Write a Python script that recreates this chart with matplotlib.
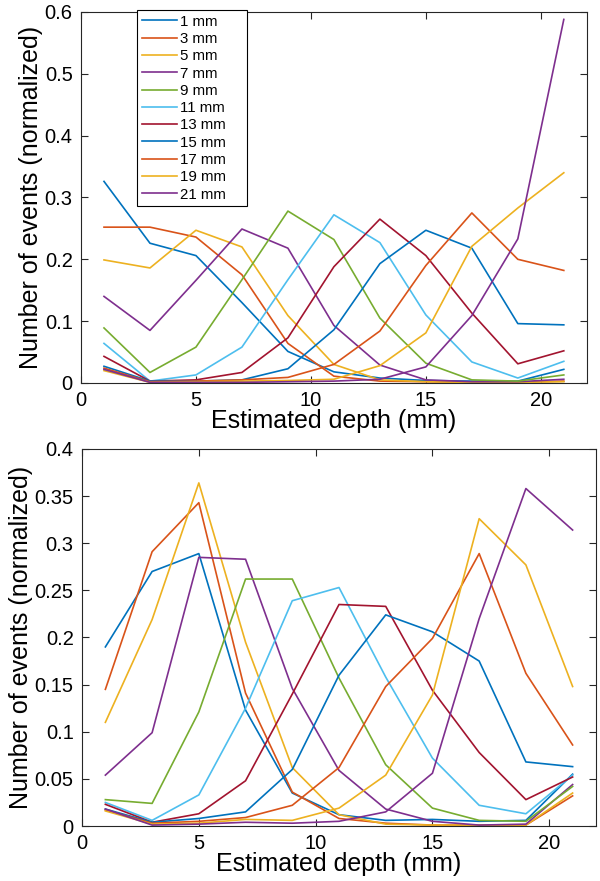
import matplotlib
matplotlib.use("Agg")
import matplotlib.pyplot as plt
from matplotlib.ticker import FuncFormatter, MultipleLocator

plt.rcParams['font.family'] = ['Liberation Sans', 'DejaVu Sans']

depths = [1, 3, 5, 7, 9, 11, 13, 15, 17, 19, 21]
labels = ['1 mm', '3 mm', '5 mm', '7 mm', '9 mm', '11 mm', '13 mm', '15 mm', '17 mm', '19 mm', '21 mm']
colors = ['#0072BD', '#D95319', '#EDB120', '#7E2F8E', '#77AC30', '#4DBEEE', '#A2142F',
          '#0072BD', '#D95319', '#EDB120', '#7E2F8E']

# Top panel (normalized events per true depth)
top_1mm  = [0.326, 0.226, 0.206, 0.130, 0.051, 0.018, 0.008, 0.004, 0.003, 0.003, 0.022]
top_3mm  = [0.252, 0.252, 0.236, 0.175, 0.064, 0.011, 0.003, 0.002, 0.001, 0.001, 0.003]
top_5mm  = [0.199, 0.186, 0.247, 0.220, 0.109, 0.030, 0.005, 0.002, 0.001, 0.001, 0.002]
top_7mm  = [0.140, 0.085, 0.166, 0.249, 0.218, 0.093, 0.029, 0.005, 0.002, 0.002, 0.006]
top_9mm  = [0.089, 0.017, 0.058, 0.167, 0.278, 0.232, 0.105, 0.032, 0.005, 0.003, 0.013]
top_11mm = [0.064, 0.003, 0.013, 0.058, 0.167, 0.272, 0.227, 0.110, 0.034, 0.008, 0.035]
top_13mm = [0.043, 0.003, 0.005, 0.017, 0.073, 0.188, 0.265, 0.206, 0.113, 0.031, 0.052]
top_15mm = [0.027, 0.003, 0.003, 0.005, 0.023, 0.086, 0.193, 0.247, 0.218, 0.096, 0.094]
top_17mm = [0.024, 0.002, 0.003, 0.005, 0.009, 0.030, 0.084, 0.190, 0.275, 0.200, 0.182]
top_19mm = [0.020, 0.001, 0.002, 0.003, 0.004, 0.006, 0.028, 0.081, 0.221, 0.283, 0.340]
top_21mm = [0.022, 0.001, 0.001, 0.001, 0.002, 0.003, 0.006, 0.026, 0.109, 0.233, 0.588]

# Bottom panel
bot_1mm  = [0.190, 0.270, 0.289, 0.123, 0.035, 0.012, 0.006, 0.007, 0.005, 0.006, 0.055]
bot_3mm  = [0.145, 0.291, 0.343, 0.141, 0.036, 0.008, 0.003, 0.001, 0.001, 0.001, 0.032]
bot_5mm  = [0.110, 0.219, 0.364, 0.195, 0.062, 0.012, 0.002, 0.001, 0.001, 0.001, 0.035]
bot_7mm  = [0.054, 0.099, 0.285, 0.283, 0.146, 0.059, 0.018, 0.005, 0.001, 0.002, 0.044]
bot_9mm  = [0.028, 0.024, 0.121, 0.262, 0.262, 0.157, 0.065, 0.019, 0.006, 0.005, 0.042]
bot_11mm = [0.025, 0.006, 0.033, 0.125, 0.239, 0.253, 0.158, 0.072, 0.022, 0.013, 0.054]
bot_13mm = [0.023, 0.004, 0.013, 0.048, 0.140, 0.235, 0.233, 0.144, 0.078, 0.028, 0.052]
bot_15mm = [0.018, 0.004, 0.008, 0.015, 0.060, 0.160, 0.224, 0.206, 0.175, 0.068, 0.063]
bot_17mm = [0.017, 0.003, 0.005, 0.009, 0.022, 0.062, 0.148, 0.199, 0.289, 0.162, 0.086]
bot_19mm = [0.016, 0.002, 0.003, 0.007, 0.006, 0.019, 0.054, 0.139, 0.326, 0.277, 0.148]
bot_21mm = [0.018, 0.001, 0.002, 0.004, 0.003, 0.005, 0.015, 0.056, 0.220, 0.358, 0.314]

top_series = [top_1mm, top_3mm, top_5mm, top_7mm, top_9mm, top_11mm, top_13mm,
              top_15mm, top_17mm, top_19mm, top_21mm]
bot_series = [bot_1mm, bot_3mm, bot_5mm, bot_7mm, bot_9mm, bot_11mm, bot_13mm,
              bot_15mm, bot_17mm, bot_19mm, bot_21mm]

fig = plt.figure(figsize=(6, 8.81), dpi=100)
ax1 = fig.add_axes([0.135, 0.5653, 0.843, 0.4211])
ax2 = fig.add_axes([0.1367, 0.0624, 0.8566, 0.428])

fmt = FuncFormatter(lambda v, p: ('%g' % round(v, 4)))

for ax, series, ymax, ystep in [(ax1, top_series, 0.6, 0.1), (ax2, bot_series, 0.4, 0.05)]:
    for s, c, l in zip(series, colors, labels):
        ax.plot(depths, s, color=c, lw=1.2, label=l)
    ax.set_xlim(0, 22)
    ax.set_ylim(0, ymax)
    ax.xaxis.set_major_locator(MultipleLocator(5))
    ax.yaxis.set_major_locator(MultipleLocator(ystep))
    ax.yaxis.set_major_formatter(fmt)
    ax.tick_params(direction='in', top=True, right=True, labelsize=14.5, length=5,
                   width=0.8, color='#262626', labelcolor='black', pad=6)
    for sp in ax.spines.values():
        sp.set_color('#262626')
        sp.set_linewidth(0.8)
    ax.set_xlabel('Estimated depth (mm)', fontsize=18, labelpad=-1)
    ax.set_ylabel('Number of events (normalized)', fontsize=18, labelpad=1)

leg = ax1.legend(loc='upper left', bbox_to_anchor=(0.111, 0.5, 0.2174, 0.505),
                 mode='expand', borderaxespad=0,
                 fontsize=10.8, handlelength=2.35, handletextpad=0.2, labelspacing=0.22,
                 fancybox=False, edgecolor='black', framealpha=1, borderpad=0.3)
leg.get_frame().set_linewidth(0.8)

fig.savefig('out.png', dpi=100)
